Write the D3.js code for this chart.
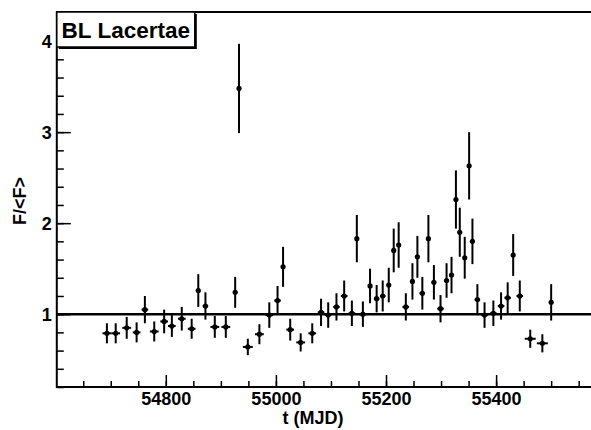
<!DOCTYPE html>
<html><head><meta charset="utf-8">
<script src="https://cdn.jsdelivr.net/npm/d3@7"></script>
<style>html,body{margin:0;padding:0;background:#fff;overflow:hidden}</style>
</head><body>
<svg id="c" width="591" height="430"></svg>
<script>
// ---- data ----
const time = [54693,54709,54729,54747,54762,54779,54797,54811,54829,54847,
  54859,54872,54889,54909,54926,54933,54949,54970,54988,55003,
  55013,55026,55045,55066,55082,55095,55110,55124,55138,55147,
  55158,55171,55183,55194,55205,55214,55223,55236,55248,55257,
  55266,55277,55287,55299,55310,55319,55327,55334,55343,55351,
  55357,55366,55379,55395,55409,55421,55431,55443,55462,55484,55500];
const flux = [0.79,0.79,0.85,0.80,1.05,0.81,0.92,0.87,0.95,0.84,
  1.26,1.09,0.86,0.86,1.24,3.48,0.64,0.78,0.99,1.15,
  1.52,0.83,0.69,0.79,1.02,0.99,1.08,1.20,1.01,1.83,
  1.00,1.31,1.17,1.20,1.32,1.70,1.76,1.08,1.36,1.63,
  1.23,1.83,1.35,1.06,1.37,1.43,2.26,1.90,1.62,2.63,
  1.80,1.16,0.99,1.01,1.09,1.18,1.65,1.20,0.73,0.68,1.13];
const fluxErr = [0.11,0.11,0.12,0.11,0.15,0.11,0.13,0.12,0.13,0.11,
  0.18,0.15,0.12,0.12,0.17,0.49,0.09,0.11,0.14,0.16,
  0.22,0.12,0.10,0.11,0.15,0.14,0.15,0.17,0.14,0.26,
  0.14,0.19,0.15,0.17,0.19,0.24,0.25,0.15,0.20,0.23,
  0.18,0.26,0.19,0.15,0.19,0.20,0.32,0.27,0.23,0.37,
  0.25,0.17,0.14,0.14,0.15,0.17,0.23,0.17,0.10,0.10,0.20];
const timeErr = [8,8,8,7,6,8,7,7,7,7,
  3,5,8,8,3,3,9,8,7,6,
  3,7,8,7,6,6,6,6,6,3,
  6,3,5,5,3,3,3,6,3,3,
  5,3,4,6,3,3,3,3,3,3,
  3,5,6,6,6,6,3,6,10,10,3];
const xMajorTicks = [54800, 55000, 55200, 55400];
const xMinorTicks = d3.range(54650, 55600, 50);
const yMajorTicks = [1, 2, 3, 4];
const yMinorTicks = d3.range(0.2, 4.31, 0.2);
const refLevel = 1;
const titleText = "BL Lacertae";
const xTitle = "t (MJD)";
const yTitle = "F/<F>";

// ---- layout ----
const svg = d3.select("#c");
const font = "'Liberation Sans', Arial, Helvetica, sans-serif";
const L = 56.8, R = 595.2, T = 12, B = 387;
const x = d3.scaleLinear().domain([54602, 55580]).range([L, R]);
const y = d3.scaleLinear().domain([0.2, 4.32]).range([B, T]);

const data = time.map((t, i) => ({t, v: flux[i], e: fluxErr[i], xe: timeErr[i]}));

// axes
const gx = svg.append("g").attr("transform", `translate(0,${B})`);
gx.call(d3.axisBottom(x).tickValues(xMinorTicks).tickSize(-6).tickFormat(""));
const gxM = svg.append("g").attr("transform", `translate(0,${B})`);
gxM.call(d3.axisBottom(x).tickValues(xMajorTicks).tickSize(-12).tickPadding(5).tickFormat(d3.format("d")));
const gy = svg.append("g").attr("transform", `translate(${L},0)`);
gy.call(d3.axisLeft(y).tickValues(yMinorTicks).tickSize(-7).tickFormat(""));
const gyM = svg.append("g").attr("transform", `translate(${L},0)`);
gyM.call(d3.axisLeft(y).tickValues(yMajorTicks).tickSize(-14).tickPadding(5).tickFormat(d3.format("d")));
svg.selectAll(".domain").remove();
svg.selectAll(".tick line").attr("stroke", "#000").attr("stroke-width", 1.5);
gxM.selectAll("text").attr("font-family", font).attr("font-weight", "bold")
  .attr("font-size", 18).attr("fill", "#000");
gyM.selectAll("text").attr("font-family", font).attr("font-weight", "bold")
  .attr("font-size", 18).attr("fill", "#000").attr("dy", "0.36em");

// reference line
svg.append("line").attr("x1", L).attr("x2", 591)
  .attr("y1", y(refLevel)).attr("y2", y(refLevel))
  .attr("stroke", "#000").attr("stroke-width", 2.5);

// error bars
const pts = svg.append("g");
pts.selectAll("line.v").data(data).join("line").attr("class", "v")
  .attr("x1", d => x(d.t)).attr("x2", d => x(d.t))
  .attr("y1", d => y(d.v - d.e)).attr("y2", d => y(d.v + d.e))
  .attr("stroke", "#000").attr("stroke-width", 2);
pts.selectAll("line.h").data(data).join("line").attr("class", "h")
  .attr("x1", d => x(d.t - d.xe)).attr("x2", d => x(d.t + d.xe))
  .attr("y1", d => y(d.v)).attr("y2", d => y(d.v))
  .attr("stroke", "#000").attr("stroke-width", 2);
pts.selectAll("circle").data(data).join("circle")
  .attr("cx", d => x(d.t)).attr("cy", d => y(d.v)).attr("r", 2.6).attr("fill", "#000");

// frame
svg.append("path")
  .attr("d", `M${R + 10},${T}H${L}V${B}H${R + 10}`)
  .attr("fill", "none").attr("stroke", "#000").attr("stroke-width", 2);

// title box
const bx = L, by = T, bw = 138, bh = 35;
svg.append("rect").attr("x", bx + 2).attr("y", by + 2).attr("width", bw).attr("height", bh).attr("fill", "#000");
svg.append("rect").attr("x", bx).attr("y", by).attr("width", bw).attr("height", bh)
  .attr("fill", "#fff").attr("stroke", "#000").attr("stroke-width", 1.5);
svg.append("text").attr("x", bx + bw / 2).attr("y", by + bh / 2).attr("dy", "0.36em")
  .attr("text-anchor", "middle").attr("font-family", font).attr("font-weight", "bold")
  .attr("font-size", 22.5).text(titleText);

// axis titles
svg.append("text").attr("x", 313).attr("y", 424).attr("text-anchor", "middle")
  .attr("font-family", font).attr("font-weight", "bold").attr("font-size", 18).text(xTitle);
svg.append("text").attr("transform", "translate(26,201) rotate(-90)").attr("text-anchor", "middle")
  .attr("font-family", font).attr("font-weight", "bold").attr("font-size", 18).text(yTitle);
</script>
</body></html>
